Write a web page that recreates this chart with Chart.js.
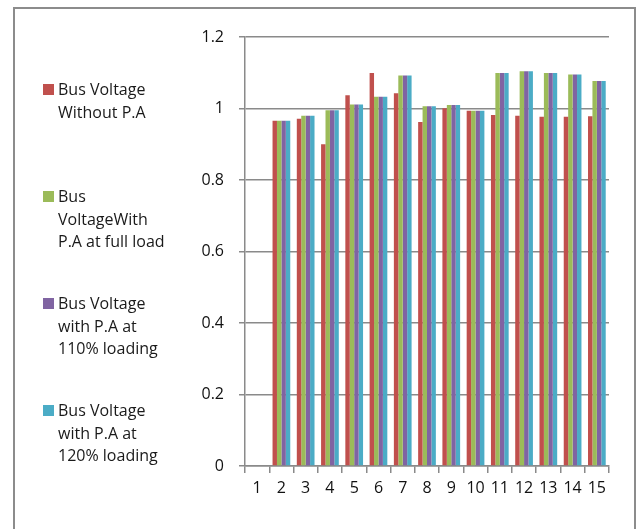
<!DOCTYPE html>
<html>
<head>
<meta charset="utf-8">
<title>Bus Voltage Profile</title>
<script src="https://cdn.jsdelivr.net/npm/chart.js@4/dist/chart.umd.min.js"></script>
<style>
  html, body { margin: 0; padding: 0; background: #ffffff; overflow: hidden; }
  #wrap { position: relative; width: 642px; height: 529px; overflow: hidden; }
  #frame { position: absolute; left: 13px; top: 7px; width: 623px; height: 600px;
           border: 2px solid #8c8c8c; box-sizing: border-box; }
  #chart { position: absolute; left: 0; top: 0; }
  #legend { position: absolute; left: 0; top: 0; width: 180px; height: 529px;
            font-family: "Open Sans", sans-serif; font-size: 16px; color: #1a1a1a; }
  .item { position: absolute; left: 43px; line-height: 22.5px; }
  .swatch { position: absolute; left: 0; top: 6px; width: 11px; height: 11px; }
  .text { margin-left: 15px; white-space: nowrap; }
</style>
</head>
<body>
<div id="wrap">
  <div id="frame"></div>
  <canvas id="chart" width="642" height="529"></canvas>
  <div id="legend"></div>
</div>
<script>
// Bus numbers along the x axis
const buses = ['1','2','3','4','5','6','7','8','9','10','11','12','13','14','15'];

// Bus voltages (p.u.)
const withoutPA   = [0, 0.966, 0.971, 0.900, 1.037, 1.099, 1.043, 0.962, 1.001, 0.994, 0.982, 0.980, 0.977, 0.977, 0.978];
const fullLoadPA  = [0, 0.966, 0.980, 0.995, 1.011, 1.033, 1.092, 1.006, 1.010, 0.994, 1.099, 1.104, 1.099, 1.095, 1.077];
const load110PA   = [0, 0.966, 0.980, 0.995, 1.011, 1.033, 1.092, 1.006, 1.010, 0.994, 1.099, 1.104, 1.099, 1.095, 1.077];
const load120PA   = [0, 0.966, 0.980, 0.995, 1.011, 1.033, 1.092, 1.006, 1.010, 0.994, 1.099, 1.104, 1.099, 1.095, 1.077];

// Value-axis tick labels
const yTickLabels = ['0', '0.2', '0.4', '0.6', '0.8', '1', '1.2'];

// Series names, split into the lines shown in the legend
const seriesNames = [
  ['Bus Voltage', 'Without P.A'],
  ['Bus', 'VoltageWith', 'P.A at full load'],
  ['Bus Voltage', 'with P.A at', '110% loading'],
  ['Bus Voltage', 'with P.A at', '120% loading']
];
const seriesColors = ['#C0504D', '#9BBB59', '#8064A2', '#4BACC6'];
const seriesValues = [withoutPA, fullLoadPA, load110PA, load120PA];

const axisGray = '#8a8a8a';
const font = { family: '"Open Sans", sans-serif', size: 16 };

const chart = new Chart(document.getElementById('chart'), {
  type: 'bar',
  data: {
    labels: buses,
    datasets: seriesValues.map((vals, i) => ({
      label: seriesNames[i].join(' '),
      data: vals,
      backgroundColor: seriesColors[i],
      borderWidth: 0,
      barPercentage: 1,
      categoryPercentage: 0.73
    }))
  },
  options: {
    responsive: false,
    animation: false,
    layout: { padding: { left: 180, top: 37, right: 33, bottom: 23 } },
    plugins: { legend: { display: false }, tooltip: { enabled: false } },
    scales: {
      x: {
        grid: { offset: true, drawOnChartArea: false, drawTicks: true, tickLength: 7,
                color: axisGray, lineWidth: 1.5 },
        border: { color: axisGray, width: 1.5 },
        ticks: { color: '#111', font: font, padding: 6, autoSkip: false, maxRotation: 0 },
        afterFit: s => { s.height = 40; }
      },
      y: {
        min: 0,
        max: 1.2,
        afterBuildTicks: s => { s.ticks = yTickLabels.map(t => ({ value: Number(t) })); },
        ticks: {
          color: '#111', font: font, padding: 15,
          callback: (v, i) => yTickLabels[i]
        },
        grid: { color: axisGray, lineWidth: 1.5, tickLength: 6 },
        border: { color: axisGray, width: 1.5 },
        afterFit: s => { s.width = 65; }
      }
    }
  }
});

// Legend built from the chart's own datasets
const legend = document.getElementById('legend');
chart.data.datasets.forEach((ds, i) => {
  const item = document.createElement('div');
  item.className = 'item';
  item.style.top = (78 + i * 107) + 'px';
  const sw = document.createElement('span');
  sw.className = 'swatch';
  sw.style.background = ds.backgroundColor;
  const txt = document.createElement('div');
  txt.className = 'text';
  txt.innerHTML = seriesNames[i].join('<br>');
  item.appendChild(sw);
  item.appendChild(txt);
  legend.appendChild(item);
});
</script>
</body>
</html>
